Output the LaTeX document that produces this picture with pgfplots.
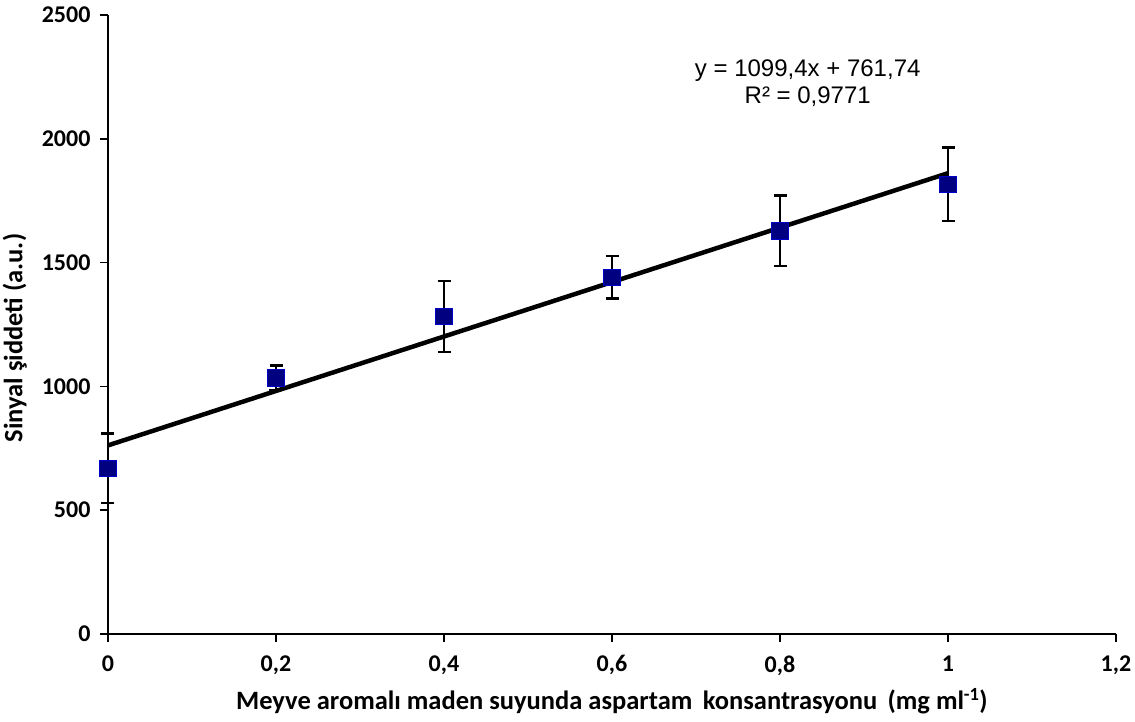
\documentclass[border=0pt]{standalone}
\usepackage{pgfplots}
\pgfplotsset{compat=1.18}
\usepackage{fontspec}
\setmainfont{Carlito}
\newfontfamily\arialfont{Liberation Sans}
\definecolor{marknavy}{HTML}{000080}
\begin{document}
\begin{tikzpicture}
\path[use as bounding box] (-108pt,-88pt) rectangle (1027pt,634pt);
\begin{axis}[
  at={(0,0)}, anchor=south west,
  scale only axis, width=1008pt, height=619pt,
  xmin=0, xmax=1.2, ymin=0, ymax=2500,
  axis x line=bottom, axis y line=left,
  axis line style={line width=1.5pt, -},
  xtick={0,0.2,...,1.2}, ytick={0,500,...,2500},
  tick style={line width=1.5pt, black},
  major tick length=8pt,
  tick align=outside,
  xticklabel style={font=\bfseries\fontsize{24}{26}\selectfont, yshift=-10pt},
  yticklabel style={font=\bfseries\fontsize{24}{26}\selectfont, xshift=-6pt},
  /pgf/number format/assume math mode=true,
  /pgf/number format/use comma,
  xticklabel={\pgfmathprintnumber[fixed,precision=1,use comma]{\tick}},
  yticklabel={\pgfmathprintnumber[fixed,precision=0,1000 sep={}]{\tick}},
  xlabel={Meyve aromalı maden suyunda aspartam\, konsantrasyonu \,(mg ml\textsuperscript{-1})},
  ylabel={Sinyal şiddeti (a.u.)},
  xlabel style={font=\bfseries\fontsize{26.5}{28}\selectfont, yshift=-6pt},
  ylabel style={font=\bfseries\fontsize{26.5}{28}\selectfont, at={(ticklabel cs:0.478)}, yshift=8pt},
  clip=false,
]
\addplot[black, line width=4.5pt] coordinates {(0,761.74) (1,1861.14)};
\addplot[only marks, mark=square*, mark size=8.3pt,
  mark options={fill=marknavy, draw=blue!60!marknavy, line width=0.6pt},
  error bars/.cd, y dir=both, y explicit,
  error bar style={line width=2.2pt, black},
  error mark options={rotate=90, mark size=6.5pt, line width=2.2pt, black}]
  coordinates {
  (0,670) +- (0,140)
  (0.2,1034) +- (0,50)
  (0.4,1283) +- (0,144)
  (0.6,1441) +- (0,86)
  (0.8,1628) +- (0,143)
  (1.0,1817) +- (0,148)
  };
\node[align=center, font=\arialfont\fontsize{24}{27}\selectfont] at (axis cs:0.833,2224) {y = 1099,4x + 761,74\\R² = 0,9771};
\end{axis}
\end{tikzpicture}
\end{document}
